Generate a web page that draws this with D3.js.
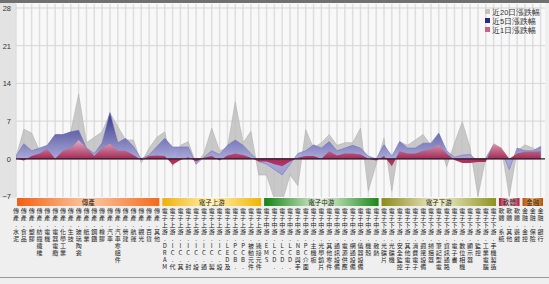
<!DOCTYPE html>
<html>
<head>
<meta charset="utf-8">
<script src="https://cdn.jsdelivr.net/npm/d3@7"></script>
<style>
  html, body { margin: 0; padding: 0; background: #eeeeee; }
  svg { display: block; font-family: "Liberation Sans", Arial, sans-serif; }
</style>
</head>
<body>
<script>
// groups along the bottom and the industries inside each of them
const groups = ["傳產", "電子上游", "電子中游", "電子下游", "軟體", "金融"];
const groupItems = [
  ["水泥","食品","塑膠","紡織纖維","電機","電器電纜","化學工業","生技","玻璃陶瓷","紙業","鋼鐵","橡膠","汽車","汽車零組件","營建","航運","觀光","百貨","其他"],
  ["DRAM","IC.代工","IC.其他","IC.封測","IC.設計","IC.通路","IC.製造","IC.設備","LED及光元件","PCB.上游","PCB.下游","被動元件","連接元件"],
  ["EMS","LCD.面板","LCD.零組件","LCD.設備","NB與手機","PC介面","主機板","光學鏡片","其他零件","通訊設備","電源供應","網通設備","儀器設備","機殼","散熱"],
  ["光碟片","光碟機","安全監控","其他電子","消費電子","週邊設備","掃描器","筆記型電腦","資訊通路","電子書","數位相機","顯示器","監控","工業電腦","手機製造"],
  ["系統","其他","遊戲"],
  ["金控","保險","銀行"]
];
const series = ["近20日漲跌幅", "近5日漲跌幅", "近1日漲跌幅"];

// values, one per industry
const chg20 = [0.3,5.5,4.8,1.5,2.5,4.5,4.5,5,12,3,4,5,8.5,6,3.5,3.5,-0.8,2,4,
  5,-1.4,2.5,3.2,-1,1,5.7,1.5,2,10.6,3,5.1,-3,
  -3,-7.5,-8,-3,-5,5.4,2,3,4.5,2.5,3,3,5.7,-6,-1,
  3.8,-6,3.2,2.5,3.5,4.5,2.5,3.5,-1.5,2.9,6.9,2,-7,0.2,2.6,
  2,-7,1.5,2.6,2,1];
const chg5 = [0.5,2.8,1.5,2,2.5,4.5,4.5,5,5.3,2,1,3,8.6,3,3.8,2.3,0,0.7,2.3,
  3.8,2.2,2.2,2.2,-1,0.3,1.5,0.8,2.5,3.5,2.5,1,-0.5,
  -1,-2,-3,-1,1,1.5,2.6,2,3.2,1.5,2,2.5,2,0.5,0,
  2.6,0.5,3.2,2,2,2.9,2.9,4.8,1.5,0.3,0.7,0.8,-0.5,0,2.6,
  1.5,-2,2,1.5,1.5,2.3];
const chg1 = [0,-0.3,0.5,1,1.8,0,1.5,2,3.5,2,0.5,2,2.8,1.5,1.5,0.7,-0.2,0.5,0.6,
  0.5,-1.1,-0.2,0.3,-0.5,0.2,0.5,-0.3,0.6,1,0.7,0.2,-0.5,
  -0.5,-1,-1.4,-0.5,0.2,0.5,0.5,0,1.4,0.6,1,1,0.8,0,-0.3,
  0.5,-1.4,1.4,1,1,1.5,1.8,2.6,1,-0.2,-0.8,-0.8,-0.6,-0.6,2.9,
  2,0,1,1.3,1.3,1.4];
const yTicks = [-7, 0, 7, 14, 21, 28];

const W = 549, H = 284;
const cats = groupItems.flatMap((items, g) => items.map(name => ({g, name})));

const svg = d3.select("body").append("svg").attr("width", W).attr("height", H);

// frame
svg.append("rect").attr("width", W).attr("height", H).attr("fill", "#efefef");
svg.append("rect").attr("x", 0).attr("y", 0).attr("width", W).attr("height", 3).attr("fill", "#707070");
svg.append("rect").attr("x", 0).attr("y", 3).attr("width", 16).attr("height", 195).attr("fill", "#e3e3e3");

const x = d3.scalePoint().domain(d3.range(cats.length)).range([16, 540.6]);
const y = d3.scaleLinear().domain([-7, 28]).range([196.5, 8]);

svg.append("rect").attr("x", 16).attr("y", 3).attr("width", 529).attr("height", 195).attr("fill", "#f8f8f8");

// grid
svg.append("g").selectAll("line").data(d3.range(cats.length)).join("line")
  .attr("x1", d => x(d)).attr("x2", d => x(d)).attr("y1", 4).attr("y2", 197)
  .attr("stroke", "#dedede").attr("stroke-width", 1.5);
svg.append("g").selectAll("line").data(yTicks.filter(d => d > 0)).join("line")
  .attr("x1", 16).attr("x2", 545).attr("y1", d => y(d)).attr("y2", d => y(d))
  .attr("stroke", "#d6d6d6").attr("stroke-width", 1);

// y axis labels
const yAxis = d3.axisLeft(y).tickValues(yTicks).tickSize(0).tickPadding(0);
svg.append("g").attr("transform", "translate(11,0)").call(yAxis)
  .call(g => g.select(".domain").remove())
  .call(g => g.selectAll("text").attr("font-size", 7.5).attr("fill", "#333")
    .attr("font-family", "Liberation Sans, Arial, sans-serif"));

// gradients
const defs = svg.append("defs");
const blueG = defs.append("linearGradient").attr("id", "gBlue")
  .attr("gradientUnits", "userSpaceOnUse").attr("x1", 0).attr("x2", 0)
  .attr("y1", y(9)).attr("y2", y(-3));
blueG.append("stop").attr("offset", 0).attr("stop-color", "#23237e");
blueG.append("stop").attr("offset", 0.75).attr("stop-color", "#a6a6dc");
blueG.append("stop").attr("offset", 1).attr("stop-color", "#9a9ad6");
const pinkG = defs.append("linearGradient").attr("id", "gPink")
  .attr("gradientUnits", "userSpaceOnUse").attr("x1", 0).attr("x2", 0)
  .attr("y1", y(4)).attr("y2", y(-2));
pinkG.append("stop").attr("offset", 0).attr("stop-color", "#f2c6d4");
pinkG.append("stop").attr("offset", 0.67).attr("stop-color", "#a3234f");
pinkG.append("stop").attr("offset", 1).attr("stop-color", "#b8416c");

const clip = defs.append("clipPath").attr("id", "plotClip");
clip.append("rect").attr("x", 16).attr("y", 3).attr("width", 529).attr("height", 194);

const area = d3.area().x((d, i) => x(i)).y0(y(0)).y1(d => y(d));
const plot = svg.append("g").attr("clip-path", "url(#plotClip)");
plot.append("path").attr("d", area(chg20)).attr("fill", "#bdbdbd").attr("fill-opacity", 0.8)
  .attr("stroke", "#a9a9a9").attr("stroke-width", 0.5);
plot.append("path").attr("d", area(chg5)).attr("fill", "url(#gBlue)").attr("fill-opacity", 0.92)
  .attr("stroke", "#6a6ab8").attr("stroke-width", 0.5);
plot.append("path").attr("d", area(chg1)).attr("fill", "url(#gPink)").attr("fill-opacity", 0.95);
plot.append("line").attr("x1", 16).attr("x2", 545).attr("y1", y(0)).attr("y2", y(0))
  .attr("stroke", "#2e1522").attr("stroke-width", 1.3);

// legend
const legendColors = ["#c4c4c4", "#2a2a86", "#c9637f"];
const lg = svg.append("g");
series.forEach((s, i) => {
  lg.append("rect").attr("x", 485).attr("y", 9 + i * 9).attr("width", 5).attr("height", 5)
    .attr("fill", legendColors[i]);
  lg.append("text").attr("x", 492).attr("y", 14.5 + i * 9).attr("font-size", 7.5)
    .attr("fill", "#333").text(s);
});

// group bands
const bandColors = [
  ["#f45e10", "#fbc9a4", "#f26a1c"],
  ["#efb008", "#fff3b8", "#f0b400"],
  ["#138213", "#e4f2dc", "#1b861b"],
  ["#8c8a1a", "#f1efd0", "#8e921e"],
  ["#b2122c", "#fbe6ea", "#b0162e"],
  ["#b4520c", "#f2b060", "#b4540e"]
];
const dx = x.step();
groups.forEach((gname, g) => {
  const idx = cats.map((c, i) => c.g === g ? i : -1).filter(i => i >= 0);
  let x0 = Math.max(17, x(idx[0]) - dx / 2 + 1.5);
  let x1 = Math.min(544, x(idx[idx.length - 1]) + dx / 2 - 1.5);
  const gr = defs.append("linearGradient").attr("id", "band" + g);
  gr.append("stop").attr("offset", 0).attr("stop-color", bandColors[g][0]);
  gr.append("stop").attr("offset", 0.5).attr("stop-color", bandColors[g][1]);
  gr.append("stop").attr("offset", 1).attr("stop-color", bandColors[g][2]);
  svg.append("rect").attr("x", x0).attr("y", 198).attr("width", x1 - x0).attr("height", 8)
    .attr("fill", `url(#band${g})`);
  svg.append("text").attr("x", (x0 + x1) / 2).attr("y", 204.8).attr("text-anchor", "middle")
    .attr("font-size", 6.5).attr("fill", "#222").attr("font-family", "Noto Sans CJK TC, sans-serif")
    .text(gname);
});

// vertical category labels, one character per line, cut at the panel bottom
const lab = svg.append("g").attr("font-size", 6).attr("fill", "#222")
  .attr("font-family", "Noto Sans CJK TC, sans-serif").attr("text-anchor", "middle");
cats.forEach((c, i) => {
  const chars = Array.from(groups[c.g] + "." + c.name).slice(0, 9);
  lab.append("g").selectAll("text").data(chars).join("text")
    .attr("x", x(i)).attr("y", (d, k) => 213 + k * 7).text(d => d);
});
svg.append("rect").attr("x", 0).attr("y", 277).attr("width", W).attr("height", 1).attr("fill", "#9a9a9a");
</script>
</body>
</html>
